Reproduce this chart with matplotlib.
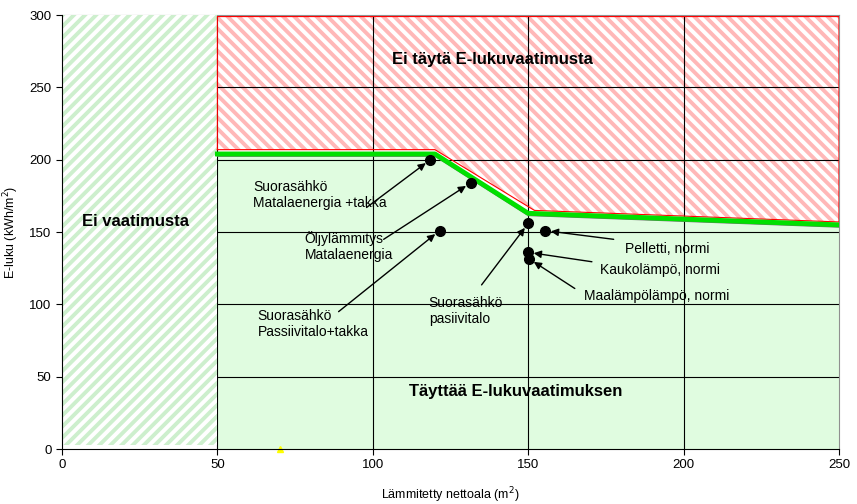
import numpy as np
import matplotlib.pyplot as plt
from matplotlib.patches import Rectangle

plt.rcParams['font.family'] = ['Liberation Sans', 'DejaVu Sans']
plt.rcParams['hatch.linewidth'] = 2.8

# limit line (E-luku requirement)
limit_x = [50, 120, 150, 250]
limit_y = [204, 204, 163, 155]
# lower edge of the "not ok" zone
red_x = [50, 120, 152, 250]
red_y = [207, 207, 165, 157]

# houses
pt_x = [118.5, 131.5, 121.5, 150, 155.5, 150, 150.3]
pt_y = [200, 184, 151, 156, 151, 136, 131.5]
pt_labels = ['Suorasähkö\nMatalaenergia +takka', 'Öljylämmitys\nMatalaenergia',
             'Suorasähkö\nPassiivitalo+takka', 'Suorasähkö\npasiivitalo',
             'Pelletti, normi', 'Kaukolämpö, normi', 'Maalämpölämpö, normi']
# where the texts sit (data coords) and where the arrow starts
txt_xy = [(61.5, 186), (78, 151), (63, 97), (118, 106), (181, 143), (173, 128.5), (168, 111)]
arr_xy = [(98, 167), (103.5, 145), (89, 95), (135, 113.5), (177.5, 145), (170.5, 129.5), (165, 111)]

xticks = [0, 50, 100, 150, 200, 250]
yticks = [0, 50, 100, 150, 200, 250, 300]

fig = plt.figure(figsize=(8.57, 5.04), dpi=100)
ax = fig.add_axes([0.0723, 0.109, 0.9067, 0.861])
ax.set_xlim(0, 250)
ax.set_ylim(0, 300)

# green ok-zone
ax.fill_between(limit_x, 0, limit_y, color='#E0FCE0', lw=0, zorder=1)
# red hatched zone
ax.fill_between(red_x, red_y, 299, facecolor='white', edgecolor='#FFB8B8',
                hatch='\\\\\\', lw=0, zorder=1)
ax.plot(red_x + [250, 50, 50], red_y + [299, 299, red_y[0]], color='red', lw=0.8, zorder=4)

# grid
for gx in [50, 100, 150, 200]:
    ax.axvline(gx, color='black', lw=0.8, zorder=2)
for gy in [50, 100, 150, 200, 250]:
    ax.axhline(gy, color='black', lw=0.8, zorder=2)

# left zone, no requirement
ax.add_patch(Rectangle((0, 3), 50, 297, facecolor='white', edgecolor='#CDEFCD',
                       hatch='///', lw=0, zorder=3))

ax.plot(limit_x, np.array(limit_y) - 1.5, color='#707070', lw=1, zorder=4)
ax.plot(limit_x, limit_y, color='#00E000', lw=3.5, zorder=5)

ax.plot(pt_x, pt_y, 'o', color='black', ms=7, zorder=6)
ax.plot([70], [0], '^', color='#FFFF00', ms=5, zorder=7, clip_on=False)

for lab, (tx, ty), (ax0, ay0), px, py in zip(pt_labels, txt_xy, arr_xy, pt_x, pt_y):
    ax.text(tx, ty, lab, fontsize=10, va='top', ha='left', zorder=7)
    ax.annotate('', xy=(px, py), xytext=(ax0, ay0), zorder=7,
                arrowprops=dict(arrowstyle='-|>', color='black', lw=1, mutation_scale=11,
                                shrinkA=0, shrinkB=4))

ax.text(138.4, 269, 'Ei täytä E-lukuvaatimusta', fontsize=12, fontweight='bold', ha='center', va='center', zorder=7)
ax.text(23.6, 157, 'Ei vaatimusta', fontsize=12, fontweight='bold', ha='center', va='center', zorder=7)
ax.text(146, 39.5, 'Täyttää E-lukuvaatimuksen', fontsize=12, fontweight='bold', ha='center', va='center', zorder=7)

ax.set_xticks(xticks)
ax.set_yticks(yticks)
ax.tick_params(direction='out', length=4, labelsize=9.5, color='black')
ax.set_xlabel('Lämmitetty nettoala (m$^2$)', fontsize=9, labelpad=10)
ax.set_ylabel('E-luku (kWh/m$^2$)', fontsize=9, labelpad=6)
for s in ['top', 'right']:
    ax.spines[s].set_color('#909090')
for s in ['left', 'bottom']:
    ax.spines[s].set_color('black')
    ax.spines[s].set_zorder(8)

fig.savefig('out.png', dpi=100)
